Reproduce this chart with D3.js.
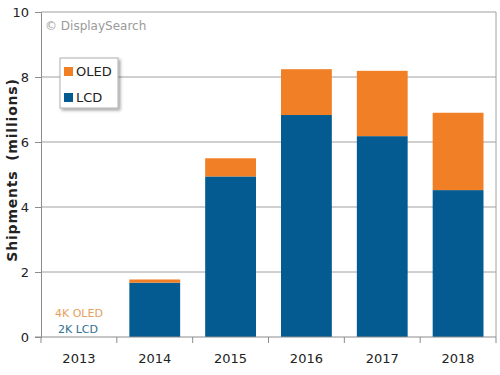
<!DOCTYPE html>
<html>
<head>
<meta charset="utf-8">
<script src="https://cdn.jsdelivr.net/npm/d3@7"></script>
<style>
  body { margin: 0; background: #fff; }
  svg { font-family: "DejaVu Sans", Verdana, sans-serif; }
</style>
</head>
<body>
<svg width="500" height="375"></svg>
<script>
const years = ['2013', '2014', '2015', '2016', '2017', '2018'];
const lcd = [0, 1.67, 4.94, 6.83, 6.18, 4.52];
const oled = [0, 0.1, 0.56, 1.41, 2.01, 2.38];
const yTicks = [0, 2, 4, 6, 8, 10];
const COLOR = {
    lcd: '#035b91',
    oled: '#f07f26',
    grid: '#a0a0a0',
    axis: '#8c8c8c'
}

const svg = d3.select('svg');
const margin = { left: 41, right: 4, top: 12, bottom: 38 };
const width = 500 - margin.left - margin.right;
const height = 375 - margin.top - margin.bottom;

const g = svg.append('g')
    .attr('transform', `translate(${margin.left},${margin.top})`);

const x = d3.scaleBand().domain(years).range([0, width]).paddingInner(0.33).paddingOuter(0.165);
const xb = d3.scaleBand().domain(years).range([0, width]);
const y = d3.scaleLinear().domain([0, 10]).range([height, 0]);

// gridlines
g.append('g')
    .selectAll('line')
    .data(yTicks.filter(t => t > 0))
    .enter().append('line')
    .attr('x1', 0).attr('x2', width)
    .attr('y1', d => y(d)).attr('y2', d => y(d))
    .attr('stroke', COLOR.grid)
    .attr('stroke-width', 1)

// right border
g.append('line')
    .attr('x1', width).attr('x2', width)
    .attr('y1', 0).attr('y2', height)
    .attr('stroke', COLOR.grid)

const data = years.map((yr, i) => ({ year: yr, lcd: lcd[i], oled: oled[i] }));
const stack = d3.stack().keys(['lcd', 'oled'])(data);

g.append('g')
    .selectAll('g')
    .data(stack)
    .enter().append('g')
    .attr('fill', s => COLOR[s.key])
    .selectAll('rect')
    .data(s => s)
    .enter().append('rect')
    .attr('x', d => x(d.data.year))
    .attr('width', x.bandwidth())
    .attr('y', d => y(d[1]))
    .attr('height', d => y(d[0]) - y(d[1]))

// y axis
const yAxis = g.append('g')
    .call(d3.axisLeft(y).tickValues(yTicks).tickSize(6).tickPadding(6))
yAxis.select('.domain').attr('stroke', COLOR.axis)
yAxis.selectAll('.tick line').attr('stroke', COLOR.axis)
yAxis.selectAll('text').attr('font-size', 13).attr('fill', '#222')
    .attr('font-family', 'DejaVu Sans, sans-serif')

// x axis with ticks at category boundaries
const xAxisG = g.append('g').attr('transform', `translate(0,${height})`);
xAxisG.append('line')
    .attr('x1', -6).attr('x2', width)
    .attr('stroke', COLOR.axis)
xAxisG.selectAll('line.tk')
    .data(years)
    .enter().append('line')
    .attr('class', 'tk')
    .attr('x1', d => xb(d)).attr('x2', d => xb(d))
    .attr('y1', 0).attr('y2', 6)
    .attr('stroke', COLOR.axis)
xAxisG.append('line')
    .attr('x1', width).attr('x2', width)
    .attr('y1', 0).attr('y2', 6)
    .attr('stroke', COLOR.axis)
xAxisG.selectAll('text')
    .data(years)
    .enter().append('text')
    .attr('x', d => xb(d) + xb.bandwidth() / 2)
    .attr('y', 26)
    .attr('text-anchor', 'middle')
    .attr('font-size', 13)
    .attr('fill', '#222')
    .text(d => d)

// y label
svg.append('text')
    .attr('transform', 'translate(17,170) rotate(-90)')
    .attr('text-anchor', 'middle')
    .attr('font-size', 14)
    .attr('font-weight', 'bold')
    .attr('letter-spacing', 0.8)
    .attr('word-spacing', 4)
    .attr('fill', '#222')
    .text('Shipments (millions)')

// source
svg.append('text')
    .attr('x', 45).attr('y', 30)
    .attr('font-size', 12)
    .attr('fill', '#9a9a9a')
    .text('© DisplaySearch')

// legend
const defs = svg.append('defs');
const f = defs.append('filter').attr('id', 'sh').attr('x', '-20%').attr('y', '-20%').attr('width', '150%').attr('height', '150%');
f.append('feDropShadow').attr('dx', 2).attr('dy', 2).attr('stdDeviation', 1.5).attr('flood-color', '#000').attr('flood-opacity', 0.35);

const lg = svg.append('g').attr('transform', 'translate(60,58)');
lg.append('rect')
    .attr('width', 58).attr('height', 50)
    .attr('fill', '#fff')
    .attr('stroke', '#b0b0b0')
    .attr('filter', 'url(#sh)')
const legendItems = [{ key: 'oled', label: 'OLED' }, { key: 'lcd', label: 'LCD' }];
legendItems.forEach((it, i) => {
    lg.append('rect')
        .attr('x', 4).attr('y', 9 + i * 26)
        .attr('width', 9).attr('height', 9)
        .attr('fill', COLOR[it.key])
    lg.append('text')
        .attr('x', 16).attr('y', 18 + i * 26)
        .attr('font-size', 13)
        .attr('fill', '#222')
        .text(it.label)
})

// bottom annotations
svg.append('text')
    .attr('x', 55).attr('y', 317)
    .attr('font-size', 11)
    .attr('fill', '#e8a060')
    .text('4K OLED')
svg.append('text')
    .attr('x', 58).attr('y', 333)
    .attr('font-size', 11)
    .attr('fill', '#2f6f90')
    .text('2K LCD')
</script>
</body>
</html>
